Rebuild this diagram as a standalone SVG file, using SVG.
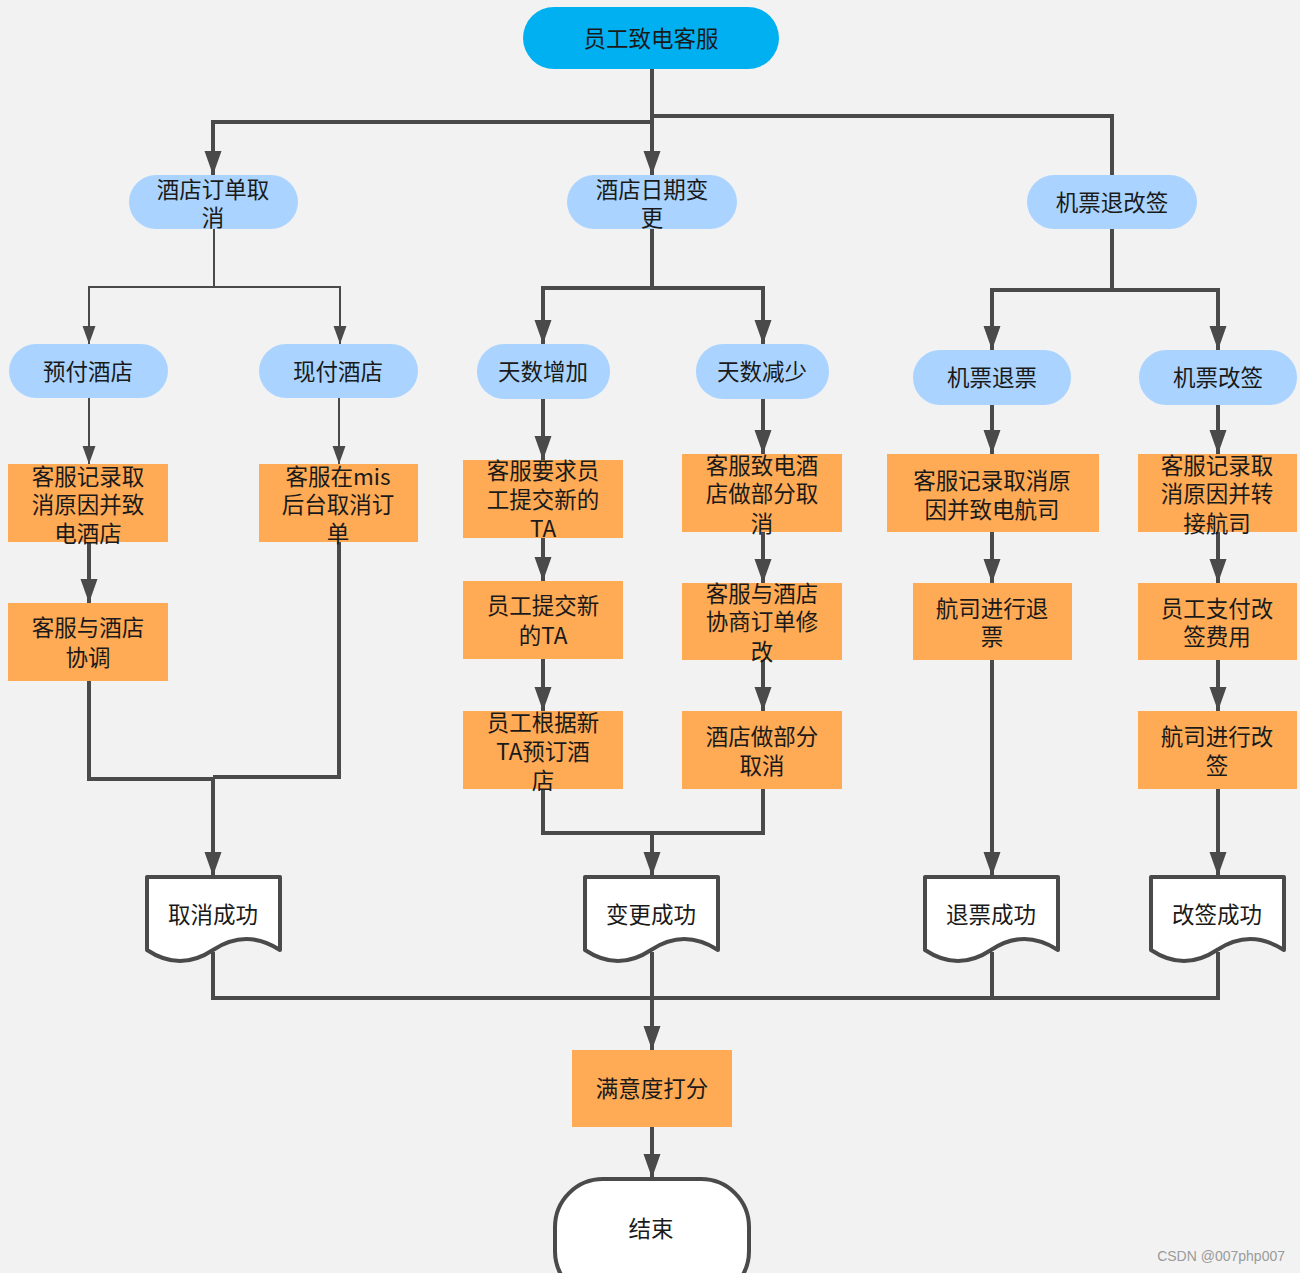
<svg xmlns="http://www.w3.org/2000/svg" width="1300" height="1273" viewBox="0 0 1300 1273">
<defs>
<style>
.t{font-family:"Noto Sans CJK SC","Noto Sans",sans-serif;font-size:22.5px;fill:#1a1a1a;text-anchor:middle}
.wm{font-family:"Liberation Sans",Arial,sans-serif;font-size:14px;fill:#9a9a9a;text-anchor:end}
.start{fill:#00b0f0}
.lb{fill:#aad4ff}
.or{fill:#ffaa55}
.doc{fill:#ffffff;stroke:#4a4a4a;stroke-width:4;stroke-linejoin:round}
.thick{fill:none;stroke:#4a4a4a;stroke-width:4}
.thin{fill:none;stroke:#4a4a4a;stroke-width:2}
</style>
<marker id="ah" markerUnits="userSpaceOnUse" markerWidth="26" markerHeight="18" refX="24" refY="9" orient="auto" viewBox="0 0 26 18">
<path d="M0,0.5 L24,9 L0,17.5 z" fill="#4a4a4a"/>
</marker>
<marker id="ahs" markerUnits="userSpaceOnUse" markerWidth="20" markerHeight="14" refX="18" refY="7" orient="auto" viewBox="0 0 20 14">
<path d="M0,0.5 L18,7 L0,13.5 z" fill="#4a4a4a"/>
</marker>
</defs>
<rect width="1300" height="1273" fill="#f2f2f2"/>

<g id="connectors">
<path class="thick" d="M652,69 V175" marker-end="url(#ah)"/>
<path class="thick" d="M652,122 H213 V175" marker-end="url(#ah)"/>
<path class="thick" d="M652,116 H1112 V175"/>
<path class="thin" d="M214,229 V287 H89 V344" marker-end="url(#ahs)"/>
<path class="thin" d="M214,287 H340 V344" marker-end="url(#ahs)"/>
<path class="thick" d="M652,229 V288 H543 V344" marker-end="url(#ah)"/>
<path class="thick" d="M652,288 H763 V344" marker-end="url(#ah)"/>
<path class="thick" d="M1112,229 V290 H992 V350" marker-end="url(#ah)"/>
<path class="thick" d="M1112,290 H1218 V350" marker-end="url(#ah)"/>
<path class="thin" d="M89,398 V464" marker-end="url(#ahs)"/>
<path class="thin" d="M339,398 V464" marker-end="url(#ahs)"/>
<path class="thick" d="M89,542 V603" marker-end="url(#ah)"/>
<path class="thick" d="M543,399 V460" marker-end="url(#ah)"/>
<path class="thick" d="M543,538 V581" marker-end="url(#ah)"/>
<path class="thick" d="M543,659 V711" marker-end="url(#ah)"/>
<path class="thick" d="M763,399 V454" marker-end="url(#ah)"/>
<path class="thick" d="M763,532 V583" marker-end="url(#ah)"/>
<path class="thick" d="M763,660 V711" marker-end="url(#ah)"/>
<path class="thick" d="M992,405 V454" marker-end="url(#ah)"/>
<path class="thick" d="M992,532 V583" marker-end="url(#ah)"/>
<path class="thick" d="M1218,405 V454" marker-end="url(#ah)"/>
<path class="thick" d="M1218,532 V583" marker-end="url(#ah)"/>
<path class="thick" d="M1218,660 V711" marker-end="url(#ah)"/>
<path class="thick" d="M89,681 V779 H213 V876" marker-end="url(#ah)"/>
<path class="thick" d="M339,542 V777 H213"/>
<path class="thick" d="M543,789 V833 H652 V876" marker-end="url(#ah)"/>
<path class="thick" d="M763,789 V833 H652"/>
<path class="thick" d="M992,660 V876" marker-end="url(#ah)"/>
<path class="thick" d="M1218,789 V876" marker-end="url(#ah)"/>
<path class="thick" d="M213,952 V998 H1218 V952"/>
<path class="thick" d="M992,952 V998"/>
<path class="thick" d="M652,952 V1050" marker-end="url(#ah)"/>
<path class="thick" d="M652,1127 V1178" marker-end="url(#ah)"/>
</g>

<g id="n-start"><rect class="start" x="523" y="7" width="256" height="62" rx="31"/><text class="t" x="651" y="47">员工致电客服</text></g>

<g id="n-hotel-cancel"><rect class="lb" x="129" y="175" width="169" height="54" rx="27"/><text class="t" x="213" y="198">酒店订单取</text><text class="t" x="213" y="226">消</text></g>
<g id="n-hotel-date"><rect class="lb" x="567" y="175" width="170" height="54" rx="27"/><text class="t" x="652" y="198">酒店日期变</text><text class="t" x="652" y="226">更</text></g>
<g id="n-flight"><rect class="lb" x="1027" y="175" width="170" height="54" rx="27"/><text class="t" x="1112" y="211">机票退改签</text></g>

<g id="n-prepay"><rect class="lb" x="9" y="344" width="159" height="54" rx="27"/><text class="t" x="88" y="380">预付酒店</text></g>
<g id="n-paynow"><rect class="lb" x="259" y="344" width="159" height="54" rx="27"/><text class="t" x="338" y="380">现付酒店</text></g>
<g id="n-inc"><rect class="lb" x="477" y="344" width="133" height="55" rx="27"/><text class="t" x="543" y="380">天数增加</text></g>
<g id="n-dec"><rect class="lb" x="696" y="344" width="133" height="55" rx="27"/><text class="t" x="762" y="380">天数减少</text></g>
<g id="n-refund"><rect class="lb" x="913" y="350" width="158" height="55" rx="27"/><text class="t" x="992" y="386">机票退票</text></g>
<g id="n-change"><rect class="lb" x="1139" y="350" width="158" height="55" rx="27"/><text class="t" x="1218" y="386">机票改签</text></g>

<g id="n-a1"><rect class="or" x="8" y="464" width="160" height="78"/><text class="t" x="88" y="485">客服记录取</text><text class="t" x="88" y="513">消原因并致</text><text class="t" x="88" y="542">电酒店</text></g>
<g id="n-a2"><rect class="or" x="8" y="603" width="160" height="78"/><text class="t" x="88" y="636">客服与酒店</text><text class="t" x="88" y="666">协调</text></g>
<g id="n-b1"><rect class="or" x="259" y="464" width="159" height="78"/><text class="t" x="338" y="485">客服在mis</text><text class="t" x="338" y="513">后台取消订</text><text class="t" x="338" y="542">单</text></g>
<g id="n-c1"><rect class="or" x="463" y="460" width="160" height="78"/><text class="t" x="543" y="479">客服要求员</text><text class="t" x="543" y="508">工提交新的</text><text class="t" x="543" y="537">TA</text></g>
<g id="n-c2"><rect class="or" x="463" y="581" width="160" height="78"/><text class="t" x="543" y="614">员工提交新</text><text class="t" x="543" y="644">的TA</text></g>
<g id="n-c3"><rect class="or" x="463" y="711" width="160" height="78"/><text class="t" x="543" y="731">员工根据新</text><text class="t" x="543" y="760">TA预订酒</text><text class="t" x="543" y="789">店</text></g>
<g id="n-d1"><rect class="or" x="682" y="454" width="160" height="78"/><text class="t" x="762" y="474">客服致电酒</text><text class="t" x="762" y="502">店做部分取</text><text class="t" x="762" y="532">消</text></g>
<g id="n-d2"><rect class="or" x="682" y="583" width="160" height="77"/><text class="t" x="762" y="602">客服与酒店</text><text class="t" x="762" y="630">协商订单修</text><text class="t" x="762" y="660">改</text></g>
<g id="n-d3"><rect class="or" x="682" y="711" width="160" height="78"/><text class="t" x="762" y="745">酒店做部分</text><text class="t" x="762" y="774">取消</text></g>
<g id="n-e1"><rect class="or" x="887" y="454" width="212" height="78"/><text class="t" x="992" y="489">客服记录取消原</text><text class="t" x="992" y="518">因并致电航司</text></g>
<g id="n-e2"><rect class="or" x="913" y="583" width="159" height="77"/><text class="t" x="992" y="617">航司进行退</text><text class="t" x="992" y="645">票</text></g>
<g id="n-f1"><rect class="or" x="1138" y="454" width="159" height="78"/><text class="t" x="1217" y="474">客服记录取</text><text class="t" x="1217" y="502">消原因并转</text><text class="t" x="1217" y="532">接航司</text></g>
<g id="n-f2"><rect class="or" x="1138" y="583" width="159" height="77"/><text class="t" x="1217" y="617">员工支付改</text><text class="t" x="1217" y="645">签费用</text></g>
<g id="n-f3"><rect class="or" x="1138" y="711" width="159" height="78"/><text class="t" x="1217" y="745">航司进行改</text><text class="t" x="1217" y="774">签</text></g>

<g id="n-ok1"><path class="doc" d="M147,877 H280 V950 Q246,928 213,950 T147,950 Z"/><text class="t" x="213" y="923">取消成功</text></g>
<g id="n-ok2"><path class="doc" d="M585,877 H718 V950 Q684,928 651,950 T585,950 Z"/><text class="t" x="651" y="923">变更成功</text></g>
<g id="n-ok3"><path class="doc" d="M925,877 H1058 V950 Q1024,928 991,950 T925,950 Z"/><text class="t" x="991" y="923">退票成功</text></g>
<g id="n-ok4"><path class="doc" d="M1151,877 H1284 V950 Q1250,928 1217,950 T1151,950 Z"/><text class="t" x="1217" y="923">改签成功</text></g>

<g id="n-score"><rect class="or" x="572" y="1050" width="160" height="77"/><text class="t" x="652" y="1097">满意度打分</text></g>
<g id="n-end"><rect class="doc" x="555" y="1179" width="194" height="120" rx="48"/><text class="t" x="651" y="1237">结束</text></g>

<text class="wm" x="1285" y="1261">CSDN @007php007</text>
</svg>
